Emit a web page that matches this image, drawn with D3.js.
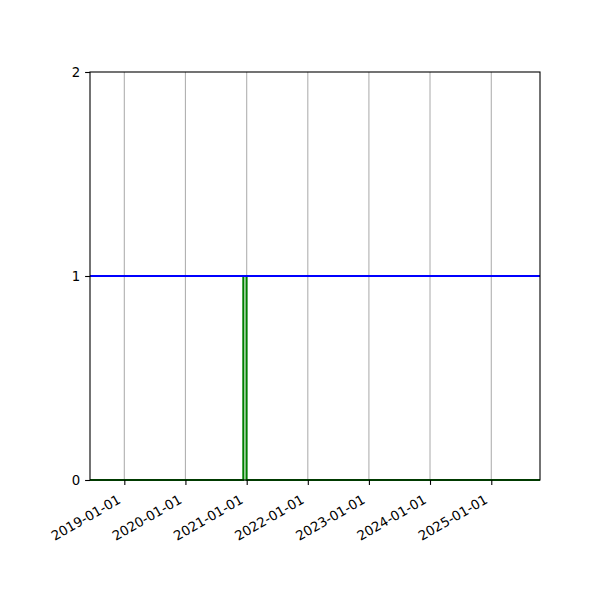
<!DOCTYPE html>
<html>
<head>
<meta charset="utf-8">
<script src="https://cdn.jsdelivr.net/npm/d3@7"></script>
<style>
  body { margin: 0; background: #fff; }
  svg text { font-family: "DejaVu Sans", sans-serif; font-size: 13.3px; fill: #000; }
</style>
</head>
<body>
<div id="chart"></div>
<script>
// x range of the axes (dates), and tick labels
var xDomain = ["2018-06-10", "2025-10-19"];
var xTicks = ["2019-01-01", "2020-01-01", "2021-01-01", "2022-01-01", "2023-01-01", "2024-01-01", "2025-01-01"];
var yTicks = [0, 1, 2];

// blue series: flat at 1
var blueDates = ["2018-06-10", "2025-10-19"];
var blueValues = [1, 1];

// green series: a short pulse around the end of 2020
var greenDates = ["2018-06-10", "2020-12-12", "2020-12-12", "2020-12-31", "2020-12-31", "2025-10-19"];
var greenValues = [0, 0, 1, 1, 0, 0];

var width = 600, height = 600;
var margin = {top: 72, right: 60, bottom: 120, left: 90};

var parse = d3.utcParse("%Y-%m-%d");

var svg = d3.select("#chart").append("svg")
    .attr("width", width)
    .attr("height", height);

var x = d3.scaleUtc()
    .domain(xDomain.map(parse))
    .range([margin.left, width - margin.right]);

var y = d3.scaleLinear()
    .domain([0, 2])
    .range([height - margin.bottom, margin.top]);

// vertical grid lines
svg.append("g")
    .selectAll("line")
    .data(xTicks)
    .enter()
    .append("line")
    .attr("x1", function(d) { return x(parse(d)); })
    .attr("x2", function(d) { return x(parse(d)); })
    .attr("y1", y(0))
    .attr("y2", y(2))
    .attr("stroke", "#b0b0b0")
    .attr("stroke-width", 1.1);

var line = d3.line()
    .x(function(d) { return x(d[0]); })
    .y(function(d) { return y(d[1]); });

var green = greenDates.map(function(d, i) { return [parse(d), greenValues[i]]; });
var blue = blueDates.map(function(d, i) { return [parse(d), blueValues[i]]; });

svg.append("path")
    .datum(green)
    .attr("d", line)
    .attr("fill", "none")
    .attr("stroke", "#008000")
    .attr("stroke-width", 2.1);

svg.append("path")
    .datum(blue)
    .attr("d", line)
    .attr("fill", "none")
    .attr("stroke", "#0000ff")
    .attr("stroke-width", 2.1);

// x axis
var xAxis = d3.axisBottom(x)
    .tickValues(xTicks.map(parse))
    .tickFormat(d3.utcFormat("%Y-%m-%d"))
    .tickSize(4.9)
    .tickPadding(4.9);

var gx = svg.append("g")
    .attr("transform", "translate(0," + y(0) + ")")
    .call(xAxis);
gx.select(".domain").remove();
gx.selectAll("line").attr("stroke", "#000").attr("stroke-width", 1.1);
gx.selectAll("text")
    .attr("y", 0)
    .attr("dy", null)
    .attr("text-anchor", "end")
    .attr("dominant-baseline", "hanging")
    .attr("transform", "translate(-8,14) rotate(-30)");

// y axis
var yAxis = d3.axisLeft(y)
    .tickValues(yTicks)
    .tickFormat(d3.format("d"))
    .tickSize(4.9)
    .tickPadding(4.9);

var gy = svg.append("g")
    .attr("transform", "translate(" + margin.left + ",0)")
    .call(yAxis);
gy.select(".domain").remove();
gy.selectAll("line").attr("stroke", "#000").attr("stroke-width", 1.1);

// frame
svg.append("rect")
    .attr("x", margin.left)
    .attr("y", margin.top)
    .attr("width", width - margin.left - margin.right)
    .attr("height", height - margin.top - margin.bottom)
    .attr("fill", "none")
    .attr("stroke", "#000")
    .attr("stroke-width", 1.1);
</script>
</body>
</html>
